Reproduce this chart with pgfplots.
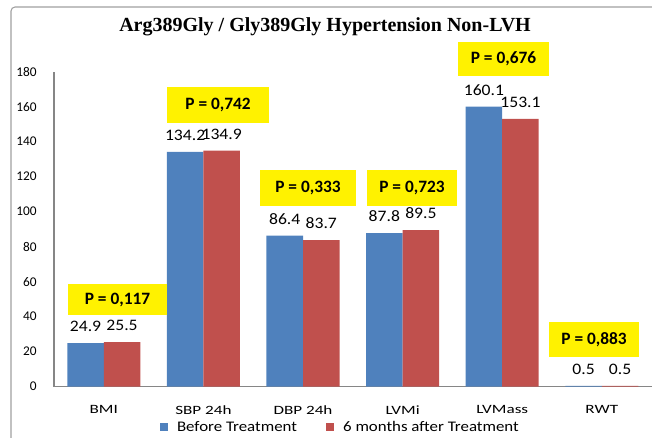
\documentclass[border=0pt]{standalone}
\usepackage{pgfplots}
\pgfplotsset{compat=1.18}
\usepackage{fontspec}
\setmainfont{Carlito}
\newfontfamily\titlefont{Liberation Serif}
\newfontfamily\xfont{Carlito}[FakeStretch=1.35]
\newfontfamily\legfont{Carlito}[FakeStretch=1.15]
\newfontfamily\labfont{Carlito}[FakeStretch=1.1]
\definecolor{cblue}{HTML}{4F81BD}
\definecolor{cred}{HTML}{C0504D}
\definecolor{axisgray}{HTML}{868686}
\definecolor{framegray}{HTML}{A0A0A0}
\begin{document}
\begin{tikzpicture}[x=1pt,y=1pt]
\path[use as bounding box] (0,0) rectangle (489,327.75);
\draw[framegray, line width=0.8pt, rounded corners=3pt] (8.25,-10) |- (520,322.5);
\node[font=\titlefont\bfseries\fontsize{15}{18}\selectfont, anchor=base, inner sep=0pt] at (243.75,304.5) {Arg389Gly / Gly389Gly Hypertension Non-LVH};
\begin{axis}[
  at={(40.5pt,37.725pt)}, anchor=south west,
  scale only axis, width=448.2pt, height=236.25pt,
  xmin=-0.5, xmax=5.5, ymin=0, ymax=180,
  ybar=0pt, bar width=27.4pt,
  axis x line*=bottom, axis y line*=left,
  axis line style={-, draw=axisgray, line width=0.8pt},
  major tick length=0pt,
  xtick={0,...,5},
  xticklabels={BMI, SBP 24h, DBP 24h, LVMi, LVMass, RWT},
  ytick={0,20,...,180},
  /pgf/number format/assume math mode=true,
  yticklabel style={font=\fontsize{10}{12}\selectfont, inner sep=0pt, anchor=east, xshift=-12.75pt},
  xticklabel style={font=\xfont\fontsize{9.5}{11}\selectfont, inner sep=0pt, anchor=north, yshift=-14pt},
  clip=false,
  nodes near coords,
  every node near coord/.append style={font=\labfont\fontsize{12}{14}\selectfont, inner sep=0pt, anchor=south, yshift=8.25pt, text=black},
  legend style={at={(0.48,-0.128)}, anchor=center, draw=none, fill=none,
    legend columns=2, font=\legfont\fontsize{11}{13}\selectfont,
    /tikz/every odd column/.append style={column sep=5pt},
    /tikz/every even column/.append style={column sep=20pt},
    inner sep=0pt},
  legend image code/.code={\fill[#1] (0pt,-2.8pt) rectangle (5.6pt,2.8pt);},
]
\addplot[fill=cblue, draw=none] coordinates {(0,24.9) (1,134.2) (2,86.4) (3,87.8) (4,160.1) (5,0.5)};
\addplot[fill=cred, draw=none] coordinates {(0,25.5) (1,134.9) (2,83.7) (3,89.5) (4,153.1) (5,0.5)};
\legend{Before Treatment, 6 months after Treatment}
\begin{scope}[every node/.style={fill=yellow, inner sep=0pt, font=\bfseries\fontsize{13}{15}\selectfont}]
\node[minimum width=74.25pt, minimum height=23.25pt] at (axis cs:0.1376,49.8) {P = 0,117};
\node[minimum width=76.5pt, minimum height=27pt] at (axis cs:1.147,161) {P = 0,742};
\node[minimum width=72pt, minimum height=27pt] at (axis cs:2.05,113.5) {P = 0,333};
\node[minimum width=67.5pt, minimum height=27pt] at (axis cs:3.094,113.5) {P = 0,723};
\node[minimum width=68.25pt, minimum height=25.5pt] at (axis cs:4.013,187.3) {P = 0,676};
\node[minimum width=67.5pt, minimum height=26.25pt] at (axis cs:4.922,27) {P = 0,883};
\end{scope}
\end{axis}
\end{tikzpicture}
\end{document}
